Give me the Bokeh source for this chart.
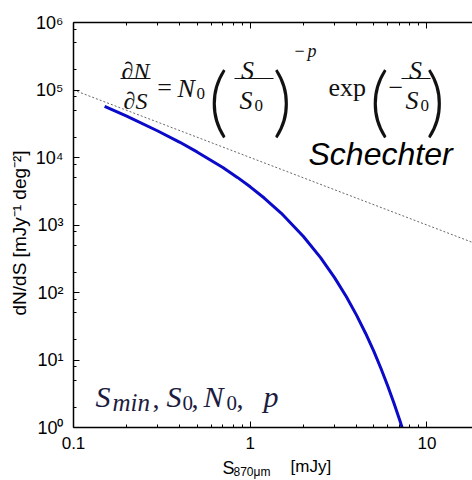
from bokeh.plotting import figure
from bokeh.layouts import column
from bokeh.models import Label, BoxAnnotation, FixedTicker, LogAxis
from bokeh.embed import file_html
from bokeh.resources import INLINE

# ---- data ----
S_VALUES = [0.15, 0.2, 0.3, 0.4, 0.5, 0.7, 0.85, 1.0, 1.2, 1.5, 2.0, 2.5, 3.0,
            3.5, 4.0, 4.5, 5.0, 5.5, 6.0, 6.5, 7.0, 7.3]
N_VALUES = [57400, 40900, 24700, 16800, 12100, 7090, 5030, 3680, 2510, 1490,
            677, 328, 166, 86.3, 45.8, 24.7, 13.5, 7.43, 4.13, 2.31, 1.30, 0.93]
POWERLAW_S = [0.1, 18.1]
POWERLAW_N = [100000, 552]

X_MAJOR = [0.1, 1, 10]
X_LABELS = ["0.1", "1", "10"]
Y_MAJOR = [1, 10, 100, 1000, 10000, 100000, 1000000]
Y_LABELS = ["10\u2070", "10\u00b9", "10\u00b2", "10\u00b3", "10\u2074", "10\u2075", "10\u2076"]
X_MINOR_MULT = [2, 3, 4, 5, 6, 7, 8, 9]
Y_MINOR_MULT = [2, 5, 8]

X_MAX = 18.1

p = figure(width=472, height=452, x_axis_type="log", y_axis_type="log",
           x_range=(0.1, X_MAX), y_range=(1, 1e6),
           output_backend="svg", toolbar_location=None,
           min_border_left=73, min_border_right=0, min_border_top=22, min_border_bottom=25)
p.outline_line_color = None
p.grid.visible = False
p.background_fill_color = "white"
p.border_fill_color = "white"

x_minor = [m * d for d in [0.1, 1, 10] for m in X_MINOR_MULT]
y_minor = [m * d for d in Y_MAJOR[:-1] for m in Y_MINOR_MULT]
xt = FixedTicker(ticks=X_MAJOR, minor_ticks=x_minor)
yt = FixedTicker(ticks=Y_MAJOR, minor_ticks=y_minor)

def style_axis(ax, size):
    ax.axis_line_color = "black"
    ax.axis_line_width = 1.5
    ax.major_tick_in = 6
    ax.major_tick_out = 0
    ax.minor_tick_in = 3
    ax.minor_tick_out = 0
    ax.major_tick_line_color = "black"
    ax.minor_tick_line_color = "black"
    ax.major_label_text_font = "Liberation Sans"
    ax.major_label_text_font_size = size
    ax.major_label_text_color = "black"

xa = p.xaxis[0]
ya = p.yaxis[0]
xa.ticker = xt
ya.ticker = yt
style_axis(xa, "17px")
style_axis(ya, "18px")
xa.major_label_overrides = {v: s for v, s in zip(X_MAJOR, X_LABELS)}
ya.major_label_overrides = {v: s for v, s in zip(Y_MAJOR, Y_LABELS)}
xa.major_label_standoff = 9
ya.major_label_standoff = 10
ya.axis_label = "dN/dS   [mJy\u207b\u00b9  deg\u207b\u00b2]"
ya.axis_label_text_font = "Liberation Sans"
ya.axis_label_text_font_size = "19px"
ya.axis_label_text_font_style = "normal"
ya.axis_label_text_color = "black"
ya.axis_label_standoff = 3

top = LogAxis(ticker=xt)
style_axis(top, "1px")
top.major_label_text_alpha = 0
top.major_label_standoff = 0
p.add_layout(top, "above")

# power law (dotted) and Schechter curve
p.line(POWERLAW_S, POWERLAW_N, line_color="#666666", line_width=1, line_dash="2 2")
p.line(S_VALUES, N_VALUES, line_color="#0a0ac8", line_width=3)

# ---- text annotations (page coordinates converted to frame screen units) ----
FL, FB = 73, 427
PAREN = "'Lato Light', 'Liberation Serif'"

def put(px, py, text, size, font="Liberation Serif", style="normal",
        align="left", color="#111111", fig=p, fl=FL, fb=FB):
    fig.add_layout(Label(x=px - fl, y=fb - py, x_units="screen", y_units="screen",
                         text=text, text_font=font, text_font_size=f"{size}px",
                         text_font_style=style, text_align=align,
                         text_baseline="alphabetic", text_color=color))

def bar(x0, x1, py, color="#111111"):
    p.add_layout(BoxAnnotation(left=x0 - FL, right=x1 - FL, bottom=FB - py - 0.6,
                               top=FB - py + 0.6, left_units="screen", right_units="screen",
                               bottom_units="screen", top_units="screen",
                               fill_color=color, fill_alpha=1, line_color=None))

# top formula
put(135, 70, "\u2202N", 24, align="center", style="italic")
bar(120, 150, 78)
put(135, 100, "\u2202S", 24, align="center", style="italic")
put(164, 87, "=", 26, align="center")
put(177, 88, "N", 26, style="italic")
put(196, 93, "0", 17)
put(208, 98, "(", 76, font=PAREN)
put(247, 70, "S", 26, align="center", style="italic")
bar(234, 273, 78)
put(239, 100, "S", 26, style="italic")
put(254, 105, "0", 17)
put(272, 98, ")", 76, font=PAREN)
put(294, 50, "\u2212", 18)
put(307, 50, "p", 18, style="italic")
put(328, 87, "exp", 26)
put(369, 98, "(", 76, font=PAREN)
put(388, 87, "\u2212", 26)
put(415, 70, "S", 26, align="center", style="italic")
bar(401, 430, 78)
put(405, 100, "S", 26, style="italic")
put(420, 105, "0", 17)
put(425, 98, ")", 76, font=PAREN)

# Schechter
put(308, 153, "Schechter", 32, font="Liberation Sans", style="italic", color="black")

# bottom formula
BC = "#1c1c40"
put(95, 396, "S", 30, style="italic", color=BC)
put(112, 402, "min", 25, style="italic", color=BC)
put(152, 398, ",", 28, color=BC)
put(166, 396, "S", 30, style="italic", color=BC)
put(182, 402, "0", 21, color=BC)
put(191, 398, ",", 28, color=BC)
put(203, 396, "N", 30, style="italic", color=BC)
put(226, 402, "0", 21, color=BC)
put(236, 398, ",", 28, color=BC)
put(263, 396, "p", 30, style="italic", color=BC)

# x axis label strip below the chart (its frame is aligned with the chart frame)
lab = figure(width=472, height=28, output_backend="svg", toolbar_location=None,
             x_axis_location=None, y_axis_location=None,
             min_border_left=0, min_border_right=0, min_border_top=0, min_border_bottom=0)
lab.outline_line_color = None
lab.grid.visible = False
lab.background_fill_color = "white"
lab.border_fill_color = "white"
put(222, 467, "S", 18, font="Liberation Sans", color="black", fig=lab, fl=FL, fb=480)
put(233, 471, "870\u03bcm", 12, font="Liberation Sans", color="black", fig=lab, fl=FL, fb=480)
put(290, 466, "[mJy]", 17, font="Liberation Sans", color="black", fig=lab, fl=FL, fb=480)

layout = column(p, lab, spacing=0)
open("out.html", "w").write(file_html(layout, INLINE))
